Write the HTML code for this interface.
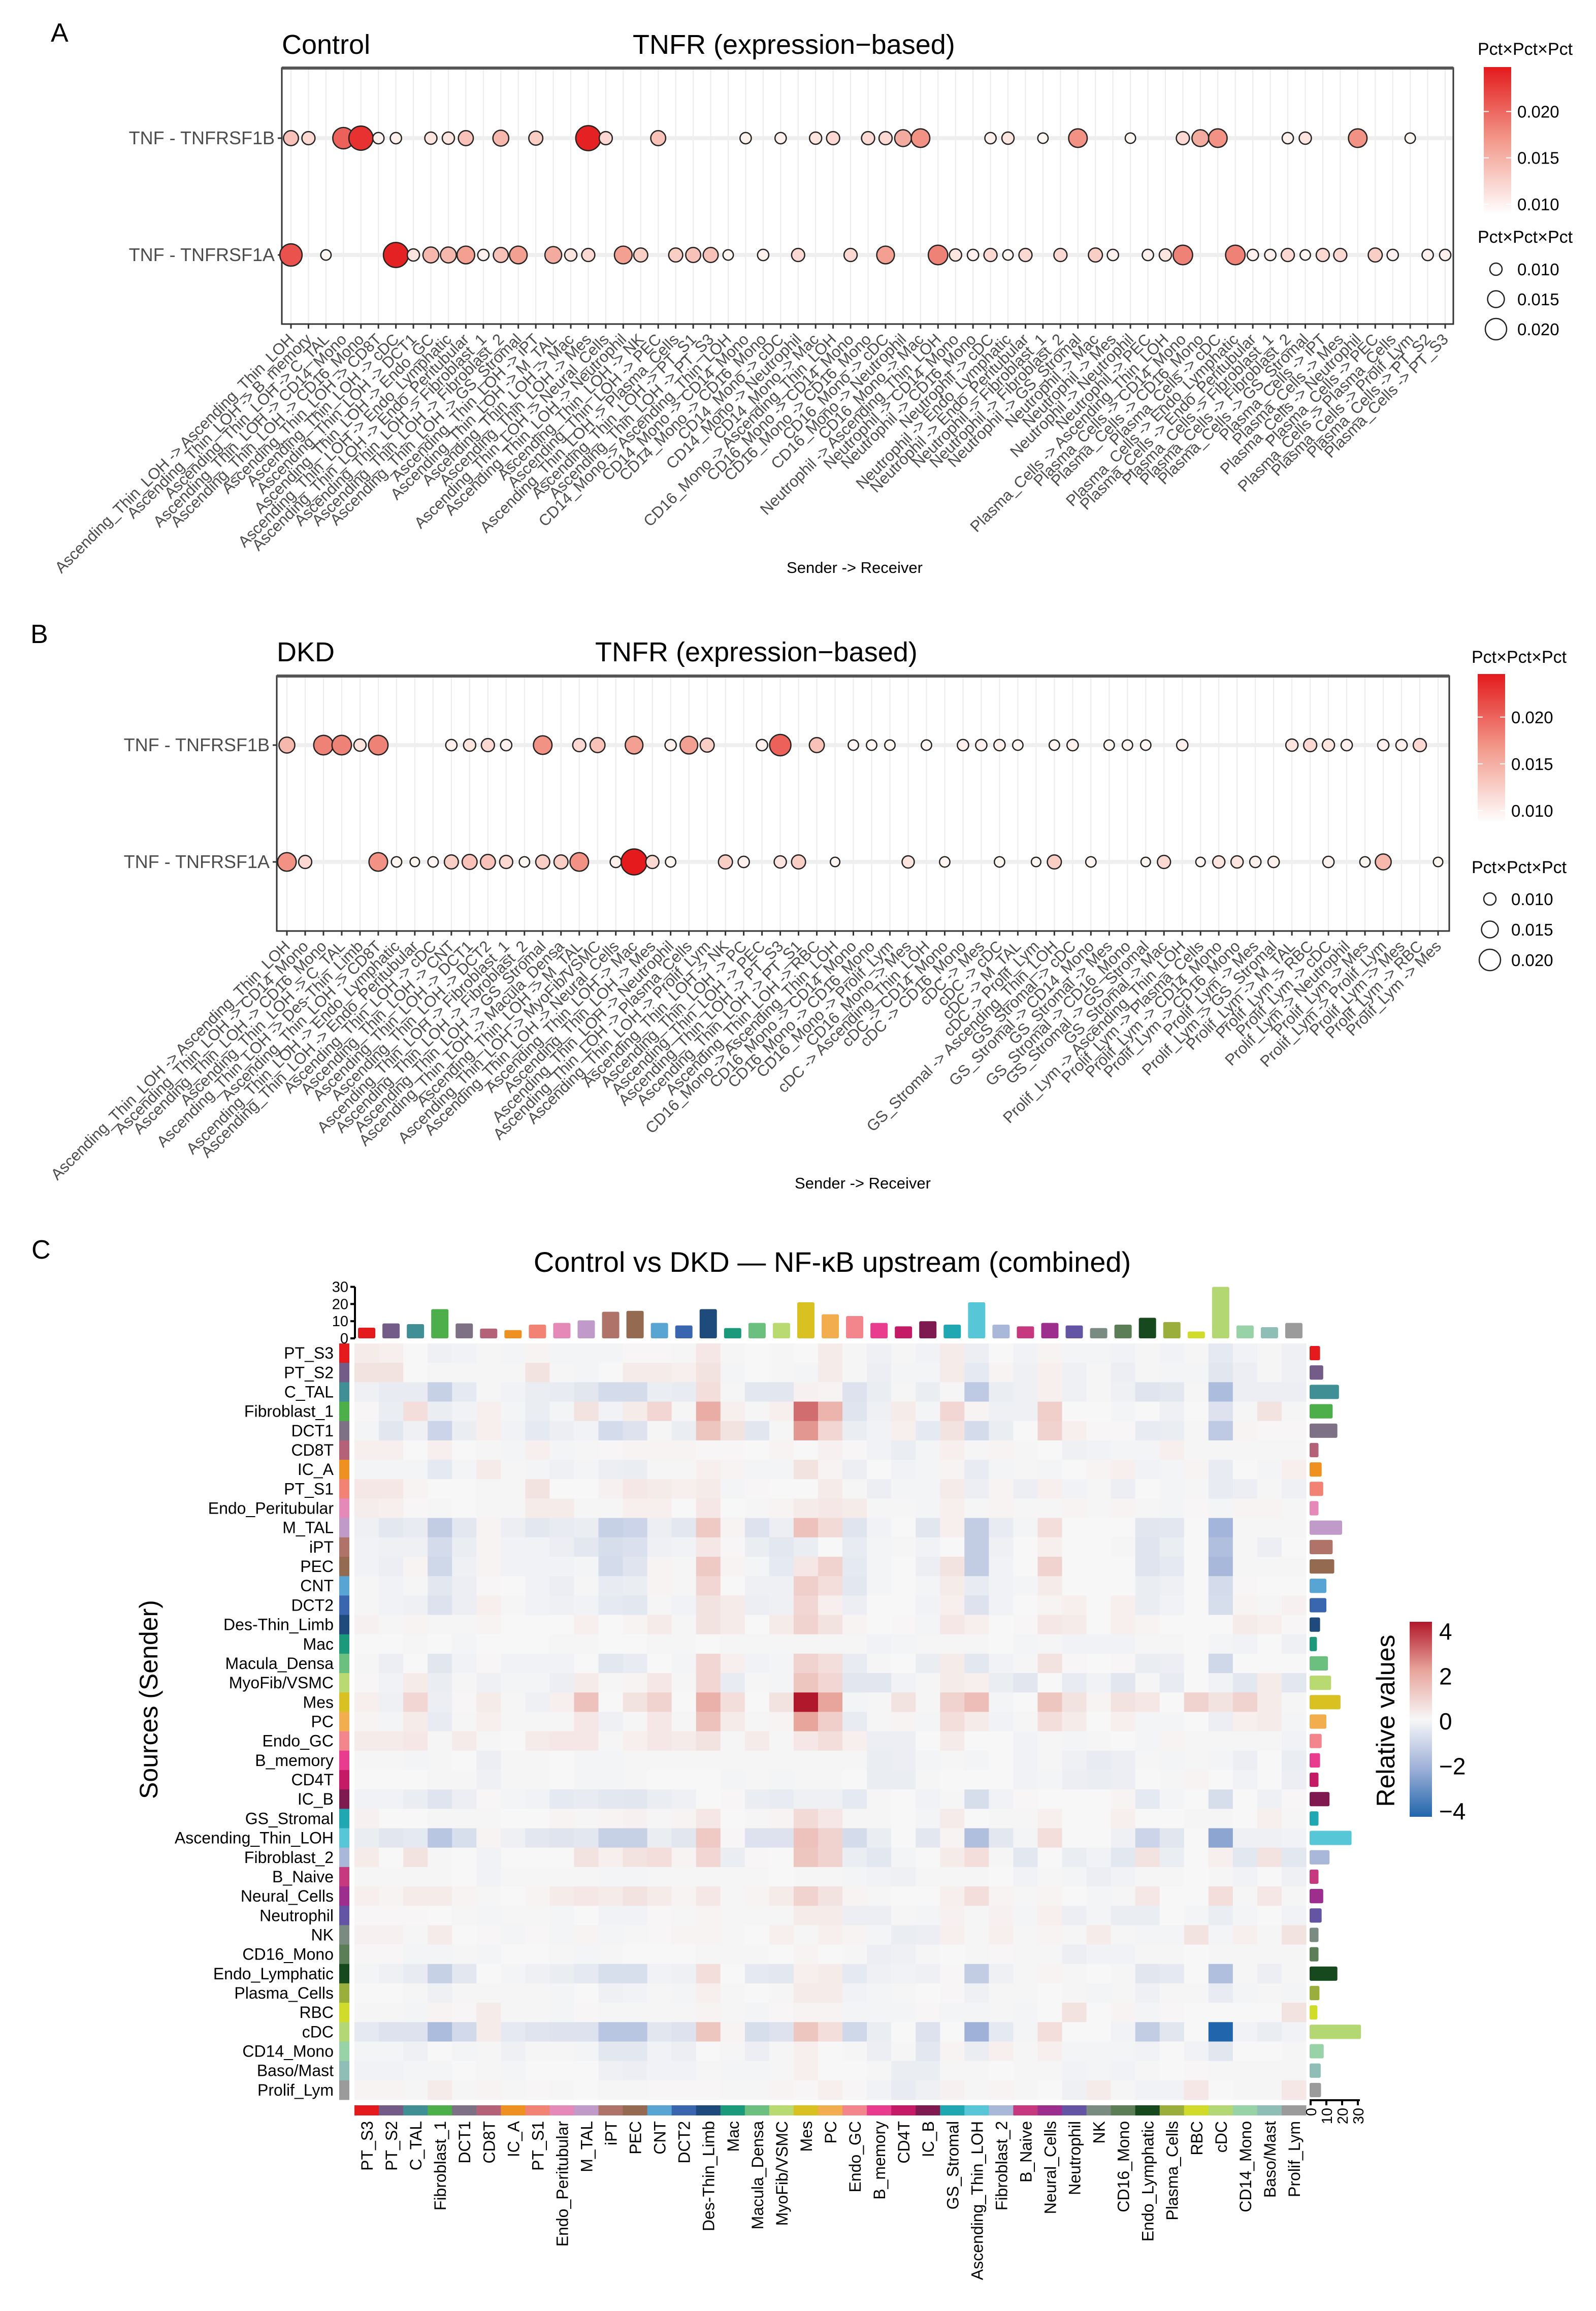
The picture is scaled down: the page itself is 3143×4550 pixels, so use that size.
<!DOCTYPE html>
<html><head><meta charset="utf-8">
<style>
html,body{margin:0;padding:0;background:#fff;}
svg{display:block;font-family:"Liberation Sans",Arial,sans-serif;}
</style></head>
<body>
<svg id="fig" xmlns="http://www.w3.org/2000/svg" width="3143" height="4550" viewBox="0 0 3143 4550"></svg>
<script>
// ---------- Panel A data ----------
const aIdx1B=[0,1,3,4,5,6,8,9,10,12,14,17,18,21,26,28,30,31,33,34,35,36,40,41,43,45,48,51,52,53,57,58,61,64];
const aVal1B=[0.013,0.011,0.020,0.023,0.009,0.009,0.010,0.010,0.013,0.014,0.012,0.024,0.011,0.013,0.009,0.009,0.010,0.011,0.011,0.011,0.015,0.017,0.009,0.010,0.008,0.017,0.008,0.011,0.015,0.017,0.009,0.010,0.017,0.008];
const aIdx1A=[0,2,6,7,8,9,10,11,12,13,15,16,17,19,20,22,23,24,25,27,29,32,34,37,38,39,40,41,42,44,46,47,49,50,51,54,55,56,57,58,59,60,62,63,65,66];
const aVal1A=[0.021,0.008,0.024,0.010,0.014,0.014,0.016,0.009,0.013,0.016,0.015,0.010,0.011,0.016,0.012,0.012,0.013,0.013,0.008,0.009,0.011,0.011,0.016,0.018,0.010,0.009,0.011,0.008,0.011,0.011,0.012,0.009,0.009,0.010,0.018,0.018,0.009,0.009,0.011,0.008,0.011,0.011,0.012,0.009,0.009,0.009];
// ---------- Panel B data ----------
const bIdx1B=[0,2,3,4,5,9,10,11,12,14,16,17,19,21,22,23,26,27,29,31,32,33,35,37,38,39,40,42,43,45,46,47,49,55,56,57,58,60,61,62];
const bVal1B=[0.014,0.018,0.018,0.010,0.018,0.009,0.010,0.011,0.009,0.017,0.011,0.013,0.016,0.009,0.016,0.012,0.009,0.020,0.013,0.008,0.008,0.008,0.008,0.009,0.009,0.009,0.008,0.008,0.009,0.008,0.008,0.008,0.009,0.010,0.011,0.010,0.009,0.009,0.009,0.011];
const bIdx1A=[0,1,5,6,7,8,9,10,11,12,13,14,15,16,18,19,20,21,24,25,27,28,30,34,36,39,41,42,44,47,48,50,51,52,53,54,57,59,60,63];
const bVal1A=[0.017,0.011,0.017,0.008,0.007,0.008,0.012,0.013,0.013,0.011,0.008,0.012,0.012,0.017,0.009,0.025,0.011,0.008,0.012,0.009,0.010,0.012,0.007,0.010,0.008,0.008,0.007,0.012,0.008,0.007,0.011,0.007,0.010,0.010,0.009,0.009,0.009,0.008,0.014,0.007];
const pairRows=["TNF - TNFRSF1B","TNF - TNFRSF1A"];
const recvA=["Ascending_Thin_LOH","B_memory","C_TAL","CD14_Mono","CD16_Mono","CD8T","cDC","DCT1","Endo_GC","Endo_Lymphatic","Endo_Peritubular","Fibroblast_1","Fibroblast_2","GS_Stromal","iPT","M_TAL","Mac","Mes","Neural_Cells","Neutrophil","NK","PEC","Plasma_Cells","PT_S1","PT_S3"];
const labelsA=[].concat(
 recvA.map(r=>"Ascending_Thin_LOH -> "+r),
 ["Ascending_Thin_LOH","CD14_Mono","CD16_Mono","cDC","Neutrophil","Mac"].map(r=>"CD14_Mono -> "+r),
 ["Ascending_Thin_LOH","CD14_Mono","CD16_Mono","cDC","Neutrophil","Mac"].map(r=>"CD16_Mono -> "+r),
 ["Ascending_Thin_LOH","CD14_Mono","CD16_Mono","cDC","Endo_Lymphatic","Endo_Peritubular","Fibroblast_1","Fibroblast_2","GS_Stromal","Mac","Mes","Neutrophil","PEC"].map(r=>"Neutrophil -> "+r),
 ["Ascending_Thin_LOH","CD14_Mono","CD16_Mono","cDC","Endo_Lymphatic","Endo_Peritubular","Fibroblast_1","Fibroblast_2","GS_Stromal","iPT","Mes","Neutrophil","PEC","Plasma_Cells","Prolif_Lym","PT_S2","PT_S3"].map(r=>"Plasma_Cells -> "+r)
);
const labelsB=[].concat(
 ["Ascending_Thin_LOH","CD14_Mono","CD16_Mono","C_TAL","Des-Thin_Limb","CD8T","Endo_Lymphatic","Endo_Peritubular","cDC","CNT","DCT1","DCT2","Fibroblast_1","Fibroblast_2","GS_Stromal","Macula_Densa","M_TAL","MyoFib/VSMC","Neural_Cells","Mac","Mes","Neutrophil","Plasma_Cells","Prolif_Lym","NK","PC","PEC","PT_S3","PT_S1","RBC"].map(r=>"Ascending_Thin_LOH -> "+r),
 ["Ascending_Thin_LOH","CD14_Mono","CD16_Mono","Prolif_Lym","Mes"].map(r=>"CD16_Mono -> "+r),
 ["Ascending_Thin_LOH","CD14_Mono","CD16_Mono","Mes","cDC","M_TAL","Prolif_Lym"].map(r=>"cDC -> "+r),
 ["Ascending_Thin_LOH","cDC","CD14_Mono","Mes","CD16_Mono","GS_Stromal","Mac"].map(r=>"GS_Stromal -> "+r),
 ["Ascending_Thin_LOH","Plasma_Cells","CD14_Mono","CD16_Mono","Mes","GS_Stromal","M_TAL","RBC","cDC","Neutrophil","Mes","Prolif_Lym","Mes","RBC","Mes"].map(r=>"Prolif_Lym -> "+r)
);
// ---------- Panel C data ----------
const cellTypes=["PT_S3","PT_S2","C_TAL","Fibroblast_1","DCT1","CD8T","IC_A","PT_S1","Endo_Peritubular","M_TAL","iPT","PEC","CNT","DCT2","Des-Thin_Limb","Mac","Macula_Densa","MyoFib/VSMC","Mes","PC","Endo_GC","B_memory","CD4T","IC_B","GS_Stromal","Ascending_Thin_LOH","Fibroblast_2","B_Naive","Neural_Cells","Neutrophil","NK","CD16_Mono","Endo_Lymphatic","Plasma_Cells","RBC","cDC","CD14_Mono","Baso/Mast","Prolif_Lym"];
const typeColors=["#E41A1C","#735C87","#3F8F94","#4DAF4A","#7F7185","#B36278","#EE9121","#F28374","#E589B9","#C09BC9","#B0736A","#946A50","#58A5D4","#3966AE","#1E4A7C","#1A9A7A","#6BC07F","#B8DA71","#D9C122","#F2AE4E","#F3858C","#EA3C8E","#C51B66","#7E1A50","#1FA8B1","#57C6D6","#A9B7D8","#C6397F","#9D2E8E","#6455A4","#7A8C82","#5B7E57","#17491F","#9AAE3B","#D1DC2A","#B3D773","#98D2A7","#8FBEB7","#9B9B9B"];
const colTotals=[6.2,8.7,8.3,17,8.7,5.7,4.8,8,9,10.5,15.5,16,9,7.5,17,6,9,9,21,14,13,9,7,10,8,21,8,7,9,7.5,6,8,12,9.5,4,30,7.5,6.5,9];
const rowTotals=[6,8,18,14,17,5,7,8,5,20,14,15,10,10,6,4,11,13,19,10,7,6,5,12,5,26,12,5,8,7,5,5,17,5.6,4.3,32,8.3,6.4,6.6];
const heatVals=[
[.3,.2,0,-.2,-.15,-.05,-.1,.1,-.1,-.1,-.1,.05,.05,-.05,.4,-.05,0,-.05,0,.3,-.05,-.2,-.05,-.15,.3,-.25,0,-.15,.1,-.1,-.1,-.15,-.05,-.15,-.05,-.4,-.15,-.05,-.2],
[.5,.5,0,-.05,-.05,-.05,-.05,.5,-.05,-.1,0,.3,.3,.2,.5,-.1,0,-.05,-.1,.3,-.05,-.25,-.1,-.1,.3,-.4,.1,-.2,.2,-.2,-.05,-.25,-.05,-.1,-.1,-.5,-.25,-.05,-.2],
[-.2,-.35,-.35,-1.1,-.4,-.05,-.15,-.3,-.35,-.5,-.8,-.8,-.3,-.35,.6,-.05,-.45,-.5,.15,.1,-.6,-.3,-.05,-.3,-.05,-1.3,-.3,-.2,.2,-.2,-.05,-.2,-.55,-.45,-.05,-1.7,-.25,-.25,-.25],
[.05,-.3,.6,-.3,-.15,.2,-.1,-.3,-.1,.5,-.15,.3,.8,-.05,1.8,.2,-.05,.2,2.8,1.6,-.55,-.2,.3,-.1,.8,.1,-.2,-.2,1.0,0,0,-.1,0,-.2,0,-.6,-.05,.5,-.05],
[-.1,-.5,-.2,-1.0,-.3,.2,-.15,-.4,-.25,-.15,-.8,-.6,-.05,-.3,1.2,.5,-.5,-.05,2.2,.8,-.3,-.15,.2,-.4,.5,-.8,-.3,0,.9,.2,.05,.05,-.35,-.3,-.05,-1.3,.1,.05,.05],
[.2,.2,0,.2,0,-.05,-.1,.2,-.1,-.05,.05,.1,.1,.1,.05,.05,0,.1,0,.15,.05,-.15,-.3,-.1,.2,-.05,.1,-.05,0,-.2,-.15,-.1,-.1,.2,-.05,-.05,-.05,-.05,-.05],
[-.1,-.1,-.1,-.4,-.1,.3,-.05,-.1,-.2,-.1,-.25,-.3,-.05,-.05,.2,.1,-.1,-.1,.5,.1,-.25,0,-.15,-.1,.1,-.35,-.1,-.05,-.1,0,.1,.2,-.15,-.1,.1,-.35,0,-.1,.2],
[.4,.4,.1,0,0,-.05,-.05,.5,0,0,.15,.4,.3,.2,.3,-.1,.05,0,0,.3,-.05,-.25,-.1,-.1,.3,-.25,.1,-.25,.2,-.15,-.05,-.25,0,-.1,-.05,-.35,-.25,-.05,-.2],
[.25,.2,.05,-.05,0,-.05,-.05,.3,.3,-.05,-.05,.2,.2,0,.4,0,-.05,.1,.3,.4,.3,-.05,-.05,-.1,.2,-.05,.1,-.05,-.05,.1,-.05,.1,-.05,-.1,.05,-.1,.1,.1,-.05],
[-.2,-.45,-.35,-1.2,-.45,.1,-.25,-.45,-.35,-.3,-1.1,-1.0,-.25,-.45,1.1,.1,-.6,-.25,1.3,.7,-.55,-.15,0,-.5,.2,-1.2,-.35,-.1,.6,0,0,0,-.5,-.45,0,-1.9,-.05,-.05,-.05],
[-.15,-.2,-.2,-.8,-.3,.1,-.15,-.15,-.25,-.45,-.75,-.65,-.2,-.15,.4,.05,-.3,-.45,-.3,0,-.35,-.1,-.05,-.15,0,-1.2,-.2,0,.2,0,0,-.05,-.55,-.3,0,-1.6,-.05,-.25,0],
[-.15,-.25,.1,-.9,-.2,.1,-.15,-.15,-.15,-.1,-.8,-.55,.1,-.05,1.1,.1,-.1,-.4,.4,.9,-.4,-.1,0,-.25,.5,-1.2,-.15,0,.9,0,0,0,-.55,-.4,0,-1.8,-.05,-.05,-.05],
[-.05,-.15,-.05,-.45,-.25,.05,0,-.15,-.25,-.05,-.35,-.3,.1,-.05,.8,0,-.2,-.2,1.0,.6,-.45,-.1,0,-.1,.3,-.35,-.15,-.1,.3,0,0,0,-.3,-.2,0,-.8,.05,0,0],
[-.05,-.15,-.2,-.6,-.25,.2,-.05,-.15,-.2,-.15,-.4,-.45,-.05,-.15,.5,.3,-.25,-.2,.8,.2,-.25,0,0,-.15,.2,-.6,-.15,0,.1,.2,0,.2,-.3,-.15,0,-.75,.1,-.05,.15],
[.15,-.05,.1,-.05,-.05,.1,0,0,0,.2,0,.1,.3,-.05,.5,.3,0,.3,.9,.5,.1,0,.05,-.1,.4,.2,0,.05,.4,.3,0,.2,.1,0,0,0,.3,.2,.05],
[0,0,-.05,0,-.1,0,0,0,-.05,-.05,0,0,-.05,-.05,0,-.05,-.05,-.05,-.05,-.05,-.05,-.15,-.1,-.05,-.05,-.05,0,-.1,-.05,-.15,-.15,-.15,-.05,-.05,0,-.1,-.15,0,-.2],
[-.05,-.25,0,-.5,-.15,.05,-.15,-.15,-.15,0,-.45,-.35,0,-.1,.8,.2,-.15,-.1,.9,.6,-.35,-.05,0,-.3,.3,-.45,-.15,-.05,.5,.05,0,.05,-.3,-.25,0,-.9,0,0,0],
[.05,-.15,.3,-.3,-.05,-.2,-.1,-.1,-.25,.3,-.05,.1,.4,-.05,.8,-.35,-.05,-.1,1.2,.8,-.5,-.5,-.15,-.05,.3,.2,-.3,-.5,0,-.35,-.15,-.5,-.05,-.35,0,-.15,-.45,.3,-.45],
[.2,-.2,.8,-.25,.05,.3,-.05,-.2,.2,1.3,0,.5,.9,0,1.7,.6,0,.5,4.0,2.0,-.1,-.05,.5,-.05,.9,1.4,-.1,0,1.2,.5,.1,.5,.4,0,.9,.5,.9,.3,-.05],
[.1,-.1,.3,-.35,-.05,.2,-.05,-.05,-.05,.4,-.2,-.05,.4,-.05,1.3,.3,-.05,.1,2.0,1.0,-.35,-.05,.1,-.1,.6,.3,-.15,-.05,.6,.3,0,.2,-.1,-.1,0,-.25,.2,.3,-.1],
[.3,.3,.4,-.05,.3,-.05,0,.3,.4,.4,-.05,.2,.4,.3,.5,-.05,.3,-.05,.4,.6,.2,-.25,-.25,0,.3,0,0,-.15,-.05,-.1,-.05,0,-.1,.1,-.05,-.05,-.05,-.05,-.15],
[-.05,-.05,-.1,-.05,0,-.25,-.05,-.05,0,-.1,-.1,-.05,-.05,-.05,-.05,-.05,-.05,-.05,-.05,-.05,-.05,-.3,-.25,-.1,-.05,-.1,0,-.15,-.05,-.2,-.35,-.25,-.05,-.1,-.05,-.1,-.25,0,-.3],
[0,0,0,-.05,-.05,-.2,-.05,-.05,0,-.1,-.1,-.05,0,0,0,-.1,-.05,-.1,-.05,-.05,0,-.3,-.3,-.05,0,0,0,-.15,-.1,-.25,-.3,-.25,0,-.05,.1,0,-.15,0,-.25],
[-.15,-.15,-.3,-.55,-.25,.05,-.1,-.15,-.4,-.35,-.45,-.5,-.3,-.2,0,.05,-.3,-.35,-.2,-.2,-.4,-.05,0,-.15,-.05,-.75,-.15,.05,0,0,0,.1,-.4,-.1,0,-.75,0,-.2,.05],
[.15,0,0,-.05,-.05,-.05,0,0,.1,-.05,.1,.15,-.05,.1,.4,0,-.05,.1,.7,.4,-.05,-.05,0,-.1,.3,0,-.05,-.05,.2,0,0,.2,0,0,-.05,-.05,0,.2,-.05],
[-.3,-.5,-.4,-1.4,-.7,.1,-.2,-.45,-.55,-.45,-1.1,-1.1,-.3,-.5,1.1,.05,-.6,-.6,1.3,.9,-.8,-.3,0,-.45,.1,-1.6,-.45,-.1,.6,0,0,-.2,-1.0,-.5,0,-2.3,-.2,-.2,-.15],
[.3,0,.5,-.05,0,-.15,0,0,0,.5,.2,.5,.6,.1,.8,-.3,.05,0,1.2,.9,-.3,-.45,-.1,0,.3,.6,-.05,-.45,0,-.3,-.15,-.45,.5,-.3,0,.2,-.45,.5,-.45],
[-.05,-.05,-.05,-.05,0,-.15,-.05,-.05,-.05,-.05,-.1,-.1,-.05,-.05,-.05,-.05,-.05,0,-.05,-.05,-.1,-.15,-.2,-.05,-.05,-.05,0,-.15,-.05,-.1,-.25,-.15,-.05,-.05,0,-.05,-.15,0,-.2],
[.2,.1,.3,.3,.1,-.05,0,.1,.3,.4,.3,.5,.3,.1,.4,-.05,.1,.3,.9,.5,.1,-.05,0,0,.2,.6,.1,-.05,.1,0,-.1,-.05,.4,0,0,.6,-.05,.4,-.05],
[.05,.05,.05,0,-.05,-.1,-.05,-.05,-.1,0,-.15,-.15,.05,-.05,.1,-.05,-.05,-.05,.3,.3,-.25,-.25,-.05,-.1,.15,-.05,.15,-.1,.2,-.25,-.1,-.3,-.3,0,-.1,-.3,-.1,0,-.15],
[.15,.15,-.05,.3,0,.05,-.1,.05,-.1,.1,-.1,-.05,.05,.1,.1,-.05,0,.2,-.05,.2,.1,-.1,-.3,-.25,.2,-.05,.2,-.05,.1,-.05,.3,-.05,-.1,-.1,.5,-.1,.2,-.05,.5],
[.05,.05,-.1,-.1,-.05,-.1,0,0,-.05,-.1,-.05,0,0,0,-.05,-.05,-.05,0,.1,0,-.05,-.25,-.2,-.05,0,-.05,.05,-.05,-.05,-.25,-.15,-.15,-.05,-.05,0,-.05,-.05,-.05,-.05],
[-.1,-.2,-.35,-1.1,-.45,0,-.1,-.2,-.3,-.4,-.7,-.7,-.15,-.2,.6,0,-.4,-.45,.2,.3,-.4,-.2,-.15,-.2,.05,-1.2,-.2,-.05,.1,-.05,0,-.05,-.5,-.4,0,-1.6,-.05,-.25,-.05],
[0,0,-.05,-.2,-.05,-.05,-.05,-.05,-.1,0,-.2,-.15,-.05,-.1,.2,-.05,0,-.05,.3,.3,-.15,-.1,-.05,0,.05,-.2,-.05,-.05,0,-.05,-.1,-.05,-.2,-.05,-.05,-.35,-.1,-.05,-.1],
[-.05,-.05,-.1,.1,.05,.3,-.05,-.05,-.1,.05,-.05,-.05,-.05,-.05,.1,-.05,-.1,.05,.1,.1,-.1,-.1,-.1,.05,-.1,-.1,-.05,-.1,0,.5,0,.1,-.1,.05,0,0,0,0,.5],
[-.4,-.6,-.6,-1.7,-.85,.3,-.4,-.55,-.6,-.6,-1.4,-1.4,-.5,-.6,1.2,.1,-.75,-.6,1.2,.6,-.9,-.3,0,-.6,0,-2.0,-.4,-.1,.6,0,0,-.15,-1.2,-.5,0,-4.0,-.15,-.3,-.15],
[-.1,-.1,-.2,0,-.1,-.05,-.2,-.05,-.05,-.1,-.45,-.45,-.15,-.25,0,-.05,-.25,-.05,.2,0,-.05,-.25,-.05,-.45,.1,-.3,.2,-.05,.2,-.1,-.1,-.1,-.15,0,-.15,-.5,0,0,-.05],
[-.15,-.15,-.1,-.1,0,-.05,-.1,0,0,0,-.2,-.25,-.15,-.15,-.05,-.1,-.1,-.05,.2,0,0,-.05,-.3,-.3,-.05,-.05,0,-.05,-.05,-.15,-.1,-.15,-.05,0,.05,-.05,-.05,-.05,-.05],
[.1,.1,-.05,.3,-.05,.1,-.05,.05,-.05,0,-.05,-.05,.05,.05,.05,-.05,-.05,.1,.05,.2,.05,-.15,-.35,-.2,.15,-.05,.1,-.05,0,-.2,.3,-.05,-.15,-.15,.4,0,-.05,-.05,.4]
];
const heatTicks=[4,2,0,-2,-4];
const barTicks=[0,10,20,30];
const dotLegend=[0.010,0.015,0.020];

// ---------- helpers ----------
const NS="http://www.w3.org/2000/svg";
const svg=document.getElementById('fig');
function mk(tag,attrs,parent,txt){const e=document.createElementNS(NS,tag);for(const k in attrs)e.setAttribute(k,attrs[k]);if(txt!==undefined)e.textContent=txt;(parent||svg).appendChild(e);return e;}
function lerp(a,b,t){return a+(b-a)*t;}
function mixHex(c1,c2,t){const p=h=>[parseInt(h.substr(1,2),16),parseInt(h.substr(3,2),16),parseInt(h.substr(5,2),16)];const a=p(c1),b=p(c2);return 'rgb('+a.map((v,i)=>Math.round(lerp(v,b[i],t))).join(',')+')';}
function dotColor(v){let t=(v-0.0085)/(0.0245-0.0085);t=Math.max(0,Math.min(1,t));return t<0.5?mixHex('#fff6f2','#f29a8c',t/0.5):mixHex('#f29a8c','#e41a1c',(t-0.5)/0.5);}
function dotR(v){return 3+900*v;}
function heatColor(v){
  const s=[[-4,'#2166ac'],[-2,'#9fb1d8'],[0,'#f7f7f7'],[2,'#e8a59c'],[4,'#b2182b']];
  v=Math.max(-4,Math.min(4,v));
  for(let i=0;i<s.length-1;i++){if(v<=s[i+1][0]){return mixHex(s[i][1],s[i+1][1],(v-s[i][0])/(s[i+1][0]-s[i][0]));}}
  return s[4][1];
}

// ---------- dot panel ----------
function dotPanel(cfg){
  const g=mk('g',{},svg);
  
  
  const n=cfg.labels.length;
  const xs=i=>cfg.cx0+i*(cfg.cx1-cfg.cx0)/(n-1);
  mk('text',{x:cfg.letterX,y:cfg.letterY,'font-size':52,fill:'#000'},g,cfg.letter);
  const t1=mk('text',{x:cfg.x0,y:cfg.titleY,'font-size':54,fill:'#000'},g,cfg.group);
  const t2=mk('text',{x:cfg.titleX,y:cfg.titleY,'font-size':54,fill:'#000'},g,'TNFR (expression\u2212based)');
  const bg=mk('rect',{x:cfg.x0,y:cfg.y0,width:cfg.x1-cfg.x0,height:cfg.y1-cfg.y0,fill:'#fff'},g);
  for(let i=0;i<n;i++){const l=mk('line',{x1:xs(i),x2:xs(i),y1:cfg.y0,y2:cfg.y1,stroke:'#ebebeb','stroke-width':2},g);}
  cfg.rowY.forEach((y,ri)=>{
    const l=mk('line',{x1:cfg.x0,x2:cfg.x1,y1:y,y2:y,stroke:'#efefef','stroke-width':8},g);
    const lab=mk('text',{x:cfg.x0-14,y:y+12,'font-size':36,fill:'#4d4d4d','text-anchor':'end'},g,pairRows[ri]);
    
    mk('line',{x1:cfg.x0-8,x2:cfg.x0,y1:y,y2:y,stroke:'#333','stroke-width':3},g);
  });
  const fr=mk('rect',{x:cfg.x0,y:cfg.y0,width:cfg.x1-cfg.x0,height:cfg.y1-cfg.y0,fill:'none',stroke:'#333','stroke-width':3},g);
  mk('line',{x1:cfg.x0,x2:cfg.x1,y1:cfg.y0,y2:cfg.y0,stroke:'#555','stroke-width':6},g);
  for(let i=0;i<n;i++){
    mk('line',{x1:xs(i),x2:xs(i),y1:cfg.y1,y2:cfg.y1+9,stroke:'#333','stroke-width':3},g);
    const tx=mk('text',{x:xs(i)+8,y:cfg.y1+32,'font-size':31,fill:'#4d4d4d','text-anchor':'end',transform:'rotate(-45 '+(xs(i)+8)+' '+(cfg.y1+32)+')'},g,cfg.labels[i]);
    
  }
  const xt=mk('text',{x:cfg.axisX,y:cfg.axisY,'font-size':31,fill:'#000','text-anchor':'middle'},g,'Sender -> Receiver');
  
  cfg.series.forEach((s,ri)=>{
    s.idx.forEach((ci,k)=>{
      const v=s.val[k];
      const c=mk('circle',{cx:xs(ci),cy:cfg.rowY[ri],r:dotR(v),fill:dotColor(v),stroke:'#222','stroke-width':2.5},g);
      
      
    });
  });
  const gid='grad'+cfg.letter;
  const defs=mk('defs',{},g);
  const lg=mk('linearGradient',{id:gid,x1:0,y1:1,x2:0,y2:0},defs);
  mk('stop',{offset:'0','stop-color':'#ffffff'},lg);
  mk('stop',{offset:'0.5','stop-color':'#f29a8c'},lg);
  mk('stop',{offset:'1','stop-color':'#e41a1c'},lg);
  const lt=mk('text',{x:cfg.legX-12,y:cfg.legTitleY,'font-size':34,fill:'#000'},g,'Pct\u00d7Pct\u00d7Pct');
  const cb=mk('rect',{x:cfg.legX,y:cfg.cbTop,width:54,height:cfg.cbBot-cfg.cbTop,fill:'url(#'+gid+')'},g);
  const vy=v=>cfg.cbBot-(v-cfg.cbMin)/(cfg.cbMax-cfg.cbMin)*(cfg.cbBot-cfg.cbTop);
  dotLegend.forEach(v=>{
    mk('line',{x1:cfg.legX,x2:cfg.legX+10,y1:vy(v),y2:vy(v),stroke:'#fff','stroke-width':2},g);
    mk('line',{x1:cfg.legX+44,x2:cfg.legX+54,y1:vy(v),y2:vy(v),stroke:'#fff','stroke-width':2},g);
    const tl=mk('text',{x:cfg.legX+66,y:vy(v)+12,'font-size':33,fill:'#000'},g,v.toFixed(3));
  });
  const st=mk('text',{x:cfg.legX-12,y:cfg.sizeTitleY,'font-size':34,fill:'#000'},g,'Pct\u00d7Pct\u00d7Pct');
  dotLegend.forEach((v,k)=>{
    const y=cfg.sizeY[k];
    const c=mk('circle',{cx:cfg.legX+24,cy:y,r:dotR(v),fill:'none',stroke:'#222','stroke-width':2.5},g);
    
    
    mk('text',{x:cfg.legX+66,y:y+12,'font-size':33,fill:'#000'},g,v.toFixed(3));
  });
}

dotPanel({name:'panel-a',letter:'A',letterX:100,letterY:82,group:'Control',titleX:1246,titleY:106,
 x0:555,x1:2862,y0:134,y1:638,cx0:573,cx1:2846,rowY:[272,502],labels:labelsA,axisX:1683,axisY:1128,
 series:[{idx:aIdx1B,val:aVal1B},{idx:aIdx1A,val:aVal1A}],
 legX:2922,legTitleY:108,cbTop:132,cbBot:422,cbMin:0.0089,cbMax:0.0248,sizeTitleY:478,sizeY:[530,589,648]});
dotPanel({name:'panel-b',letter:'B',letterX:60,letterY:1266,group:'DKD',titleX:1172,titleY:1302,
 x0:545,x1:2854,y0:1331,y1:1833,cx0:565,cx1:2832,rowY:[1467,1697],labels:labelsB,axisX:1699,axisY:2340,
 series:[{idx:bIdx1B,val:bVal1B},{idx:bIdx1A,val:bVal1A}],
 legX:2910,legTitleY:1305,cbTop:1327,cbBot:1620,cbMin:0.0087,cbMax:0.0246,sizeTitleY:1719,sizeY:[1770,1830,1890]});

// ---------- Panel C heatmap ----------
(function(){
  const g=mk('g',{},svg);
  
  
  const HX0=698,HX1=2572,HY0=2645,HY1=4134,N=cellTypes.length;
  const cw=(HX1-HX0)/N, ch=(HY1-HY0)/N;
  const hx=c=>HX0+c*cw, hy=r=>HY0+r*ch;
  mk('text',{x:62,y:2478,'font-size':52,fill:'#000'},g,'C');
  const tt=mk('text',{x:1639,y:2504,'font-size':56,fill:'#000','text-anchor':'middle'},g,'Control vs DKD \u2014 NF-\u03baB upstream (combined)');
  
  for(let r=0;r<N;r++)for(let c=0;c<N;c++){
    const e=mk('rect',{x:hx(c),y:hy(r),width:cw+0.6,height:ch+0.6,fill:heatColor(heatVals[r][c])},g);
    
    
  }
  for(let r=0;r<N;r++){
    const a=mk('rect',{x:668,y:hy(r),width:20,height:ch+0.5,fill:typeColors[r]},g);
    
    const t=mk('text',{x:657,y:hy(r)+ch/2+11,'font-size':32,fill:'#000','text-anchor':'end'},g,cellTypes[r]);
    
    
  }
  for(let c=0;c<N;c++){
    const a=mk('rect',{x:hx(c),y:4145,width:cw+0.5,height:20,fill:typeColors[c]},g);
    
    const px=hx(c)+cw/2+12, py=4176;
    const t=mk('text',{x:px,y:py,'font-size':32,fill:'#000','text-anchor':'end',transform:'rotate(-90 '+px+' '+py+')'},g,cellTypes[c]);
    
    
  }
  const by=v=>2635-v*3.38;
  mk('line',{x1:699,x2:699,y1:by(30),y2:by(0),stroke:'#000','stroke-width':4},g);
  barTicks.forEach(v=>{
    mk('line',{x1:690,x2:699,y1:by(v),y2:by(v),stroke:'#000','stroke-width':4},g);
    const t=mk('text',{x:686,y:by(v)+10,'font-size':29,fill:'#000','text-anchor':'end'},g,String(v));
    
  });
  for(let c=0;c<N;c++){
    const b=mk('rect',{x:hx(c)+cw/2-17,y:by(colTotals[c]),width:34,height:by(0)-by(colTotals[c]),rx:3,fill:typeColors[c]},g);
    
    
  }
  const bx=v=>2581+v*3.1;
  for(let r=0;r<N;r++){
    const b=mk('rect',{x:2579,y:hy(r)+5,width:bx(rowTotals[r])-2579,height:ch-10,rx:3,fill:typeColors[r]},g);
    
    
  }
  mk('line',{x1:2579,x2:bx(30)+4,y1:4135,y2:4135,stroke:'#000','stroke-width':4},g);
  barTicks.forEach(v=>{
    mk('line',{x1:bx(v),x2:bx(v),y1:4135,y2:4145,stroke:'#000','stroke-width':4},g);
    const px=bx(v)+11,py=4150;
    const t=mk('text',{x:px,y:py,'font-size':29,fill:'#000','text-anchor':'end',transform:'rotate(-90 '+px+' '+py+')'},g,String(v));
    
  });
  const yt=mk('text',{x:310,y:3346,'font-size':50,fill:'#000','text-anchor':'middle',transform:'rotate(-90 310 3346)'},g,'Sources (Sender)');
  
  const defs=mk('defs',{},g);
  const lg=mk('linearGradient',{id:'heatgrad',x1:0,y1:1,x2:0,y2:0},defs);
  [[0,-4],[0.25,-2],[0.5,0],[0.75,2],[1,4]].forEach(s=>mk('stop',{offset:s[0],'stop-color':heatColor(s[1])},lg));
  const cb=mk('rect',{x:2776,y:3193,width:44,height:384,fill:'url(#heatgrad)'},g);
  
  const ly=v=>3389-v*44.3;
  heatTicks.forEach(v=>{
    const t=mk('text',{x:2834,y:ly(v)+16,'font-size':46,fill:'#000'},g,(v<0?'\u2212'+(-v):String(v)));
    
  });
  const lt=mk('text',{x:2746,y:3388,'font-size':50,fill:'#000','text-anchor':'middle',transform:'rotate(-90 2746 3388)'},g,'Relative values');
  
})();
</script>
</body></html>
